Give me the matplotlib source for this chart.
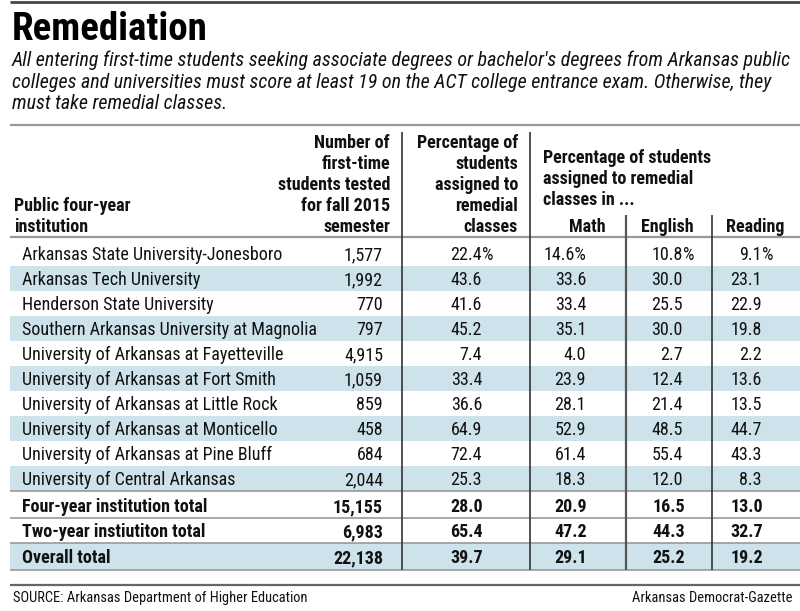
import matplotlib
matplotlib.use("Agg")
import matplotlib.pyplot as plt
from matplotlib.patches import Rectangle

# ---------------- data ----------------
institutions = [
    "Arkansas State University-Jonesboro",
    "Arkansas Tech University",
    "Henderson State University",
    "Southern Arkansas University at Magnolia",
    "University of Arkansas at Fayetteville",
    "University of Arkansas at Fort Smith",
    "University of Arkansas at Little Rock",
    "University of Arkansas at Monticello",
    "University of Arkansas at Pine Bluff",
    "University of Central Arkansas",
]
tested = [1577, 1992, 770, 797, 4915, 1059, 859, 458, 684, 2044]
pct_remedial = [22.4, 43.6, 41.6, 45.2, 7.4, 33.4, 36.6, 64.9, 72.4, 25.3]
pct_math = [14.6, 33.6, 33.4, 35.1, 4.0, 23.9, 28.1, 52.9, 61.4, 18.3]
pct_english = [10.8, 30.0, 25.5, 30.0, 2.7, 12.4, 21.4, 48.5, 55.4, 12.0]
pct_reading = [9.1, 23.1, 22.9, 19.8, 2.2, 13.6, 13.5, 44.7, 43.3, 8.3]

total_labels = ["Four-year institution total", "Two-year instiutiton total", "Overall total"]
total_tested = [15155, 6983, 22138]
total_remedial = [28.0, 65.4, 39.7]
total_math = [20.9, 47.2, 29.1]
total_english = [16.5, 44.3, 25.2]
total_reading = [13.0, 32.7, 19.2]

title = "Remediation"
subtitle = ["All entering first-time students seeking associate degrees or bachelor's degrees from Arkansas public",
            "colleges and universities must score at least 19 on the ACT college entrance exam. Otherwise, they",
            "must take remedial classes."]
source = "SOURCE: Arkansas Department of Higher Education"
credit = "Arkansas Democrat-Gazette"

# ---------------- drawing ----------------
FONT = ["Roboto Condensed", "DejaVu Sans"]
plt.rcParams["font.family"] = FONT

W, H = 800, 611
fig = plt.figure(figsize=(8, 6.11), dpi=100)
ax = fig.add_axes([0, 0, 1, 1])
ax.set_xlim(0, W)
ax.set_ylim(H, 0)
ax.axis("off")

def pt(px):
    return px * 0.72

def txt(x, yc, s, size_px, ha="left", weight="normal", style="normal", color="#111111"):
    # yc is visual centre of capitals
    ax.text(x, yc + 0.355 * size_px, s, fontsize=pt(size_px), ha=ha, va="baseline",
            fontweight=weight, fontstyle=style, color=color)

def hline(y, x0=10, x1=800, color="#888888", lw=1.5):
    ax.plot([x0, x1], [y, y], color=color, lw=lw, solid_capstyle="butt")

def vline(x, y0, y1, color="#333333", lw=1.2):
    ax.plot([x, x], [y0, y1], color=color, lw=lw, solid_capstyle="butt")

SHADE = "#cde2eb"

# rules
hline(2, color="#444444", lw=2.0)
hline(125, color="#999999", lw=1.6)
hline(237, color="#999999", lw=1.6)
hline(585, color="#666666", lw=1.6)

# title + subtitle
txt(12, 26, title, 39, weight="bold", color="#000000")
for i, line in enumerate(subtitle):
    txt(12, 59 + 21.5 * i, line, 20, style="italic")

# header
hdr_px = 18
hy = [142, 163, 184, 205, 226]
for i, s in enumerate(["Number of", "first-time", "students tested", "for fall 2015", "semester"]):
    txt(390, hy[i], s, hdr_px, ha="right", weight="bold")
for i, s in enumerate(["Public four-year", "institution"]):
    txt(14, hy[3 + i], s, hdr_px, weight="bold")
for i, s in enumerate(["Percentage of", "students", "assigned to", "remedial", "classes"]):
    txt(518, hy[i], s, hdr_px, ha="right", weight="bold")
for i, s in enumerate(["Percentage of students", "assigned to remedial", "classes in ..."]):
    txt(543, 157 + 21 * i, s, hdr_px, weight="bold")
for xc, s in [(587, "Math"), (667, "English"), (755, "Reading")]:
    txt(xc, 226, s, hdr_px, ha="center", weight="bold")

# body rows
pitch = 25.0
c0 = 253.5
body_px = 18
x_pct, x_math, x_eng, x_read = 482, 586, 683, 762

def pct_cell(x, yc, v, first, weight, size, full_right=False):
    s = f"{v:.1f}"
    if first and full_right:
        txt(x, yc, s + "%", size, ha="right", weight=weight)
    else:
        txt(x, yc, s, size, ha="right", weight=weight)
        if first:
            txt(x, yc, "%", size, ha="left", weight=weight)

for i, name in enumerate(institutions):
    yc = c0 + pitch * i
    if i % 2 == 1:
        ax.add_patch(Rectangle((10, yc - pitch / 2), 790, pitch, color=SHADE, lw=0, zorder=0))
    first = i == 0
    txt(22, yc, name, body_px)
    txt(383, yc, f"{tested[i]:,}", body_px, ha="right")
    pct_cell(x_pct, yc, pct_remedial[i], first, "normal", body_px)
    pct_cell(x_math, yc, pct_math[i], first, "normal", body_px, full_right=True)
    pct_cell(x_eng, yc, pct_english[i], first, "normal", body_px)
    pct_cell(x_read, yc, pct_reading[i], first, "normal", body_px)

# totals
edges = [491, 518, 543, 570]
tot_centers = [506, 531, 557]
ax.add_patch(Rectangle((10, edges[2]), 790, edges[3] - edges[2], color=SHADE, lw=0, zorder=0))
for y in edges:
    hline(y, color="#999999", lw=1.2)
for i, lab in enumerate(total_labels):
    yc = tot_centers[i]
    txt(22, yc, lab, body_px, weight="bold")
    txt(383, yc, f"{total_tested[i]:,}", body_px, ha="right", weight="bold")
    pct_cell(x_pct + 1, yc, total_remedial[i], False, "bold", body_px)
    pct_cell(x_math + 1, yc, total_math[i], False, "bold", body_px)
    pct_cell(x_eng + 2, yc, total_english[i], False, "bold", body_px)
    pct_cell(x_read + 1, yc, total_reading[i], False, "bold", body_px)

# vertical dividers
vline(401.5, 132, 570)
vline(530, 132, 570)
vline(626, 215, 570, color="#555555", lw=1.6)
vline(712, 215, 570)

# footer
txt(13, 597, source, 14.5)
txt(792, 597, credit, 14.5, ha="right")

fig.savefig("out.png", dpi=100)
